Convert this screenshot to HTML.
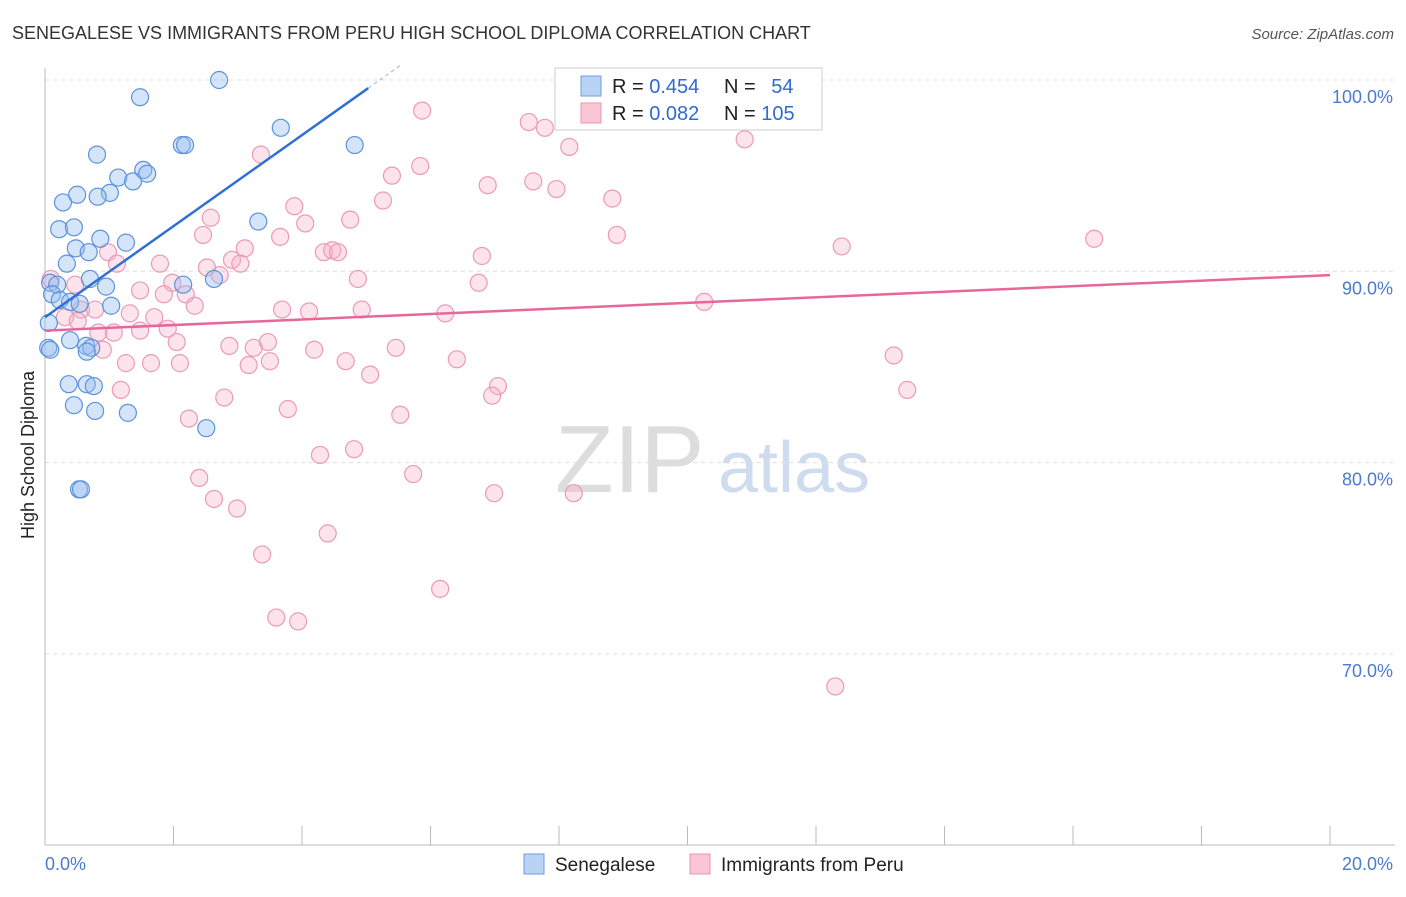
<!DOCTYPE html>
<html><head><meta charset="utf-8"><style>
body{margin:0;background:#fff;font-family:"Liberation Sans",sans-serif}
svg text{font-family:"Liberation Sans",sans-serif}
</style></head><body>
<svg id="chart" width="1406" height="892" xmlns="http://www.w3.org/2000/svg">
<text x="12" y="39" font-size="18" fill="#333">SENEGALESE VS IMMIGRANTS FROM PERU HIGH SCHOOL DIPLOMA CORRELATION CHART</text>
<text x="1394" y="39" font-size="15" fill="#555" text-anchor="end" font-style="italic">Source: ZipAtlas.com</text>
<text x="34" y="455" font-size="18" fill="#222" text-anchor="middle" transform="rotate(-90 34 455)">High School Diploma</text>
<g><text x="555" y="492" font-size="96" fill="#ddd" font-family="Liberation Serif,serif">ZIP</text><text x="718" y="492" font-size="72" fill="#cfdcf0">atlas</text></g>
<g id="grid"></g><g id="axes"></g><g id="pts"></g><g id="lines"></g>
<g>
<rect x="555" y="68" width="267" height="62" fill="#fff" stroke="#ccc"/>
<rect x="581" y="76" width="20" height="20" fill="#b9d3f5" stroke="#6f9de0"/>
<rect x="581" y="103" width="20" height="20" fill="#fac6d6" stroke="#ea93b0"/>
<text x="612" y="93" font-size="20" fill="#222">R = <tspan fill="#2f6bd0">0.454</tspan></text>
<text x="724" y="93" font-size="20" fill="#222">N = <tspan fill="#2f6bd0" dx="10">54</tspan></text>
<text x="612" y="120" font-size="20" fill="#222">R = <tspan fill="#2f6bd0">0.082</tspan></text>
<text x="724" y="120" font-size="20" fill="#222">N = <tspan fill="#2f6bd0">105</tspan></text>
</g>
<g>
<rect x="524" y="854" width="20" height="20" fill="#b9d3f5" stroke="#6f9de0"/>
<text x="555" y="871" font-size="19" fill="#222">Senegalese</text>
<rect x="690" y="854" width="20" height="20" fill="#fac6d6" stroke="#ea93b0"/>
<text x="721" y="871" font-size="19" fill="#222">Immigrants from Peru</text>
</g>
</svg>
<script>
const blueX=[2.71,1.48,2.13,2.18,3.67,4.82,0.81,1.53,1.59,1.14,1.37,1.01,0.50,0.82,0.28,3.32,0.22,0.45,0.86,1.26,0.48,0.68,0.34,2.63,0.70,0.95,2.15,0.08,0.19,0.11,0.23,0.39,0.54,1.03,0.06,0.39,0.64,0.72,0.65,0.05,0.08,0.37,0.65,0.76,0.45,0.78,1.29,2.51,0.53,0.56];
const blueY=[100,99.1,96.6,96.6,97.5,96.6,96.1,95.3,95.1,94.9,94.7,94.1,94.0,93.9,93.6,92.6,92.2,92.3,91.7,91.5,91.2,91.0,90.4,89.6,89.6,89.2,89.3,89.4,89.3,88.8,88.5,88.4,88.3,88.2,87.3,86.4,86.1,86.0,85.8,86.0,85.9,84.1,84.1,84.0,83.0,82.7,82.6,81.8,78.6,78.6];
const pinkX=[5.87,7.53,7.78,9.53,10.89,8.16,3.36,5.84,5.40,6.89,7.60,7.96,8.83,5.26,3.88,2.58,4.75,4.05,2.46,3.66,8.90,16.33,12.40,3.11,0.98,4.34,4.47,4.56,6.80,1.12,1.79,2.91,3.04,2.52,2.72,4.87,1.98,6.75,1.48,0.47,1.85,2.19,0.09,2.33,10.26,3.69,4.11,4.93,6.23,1.32,1.70,0.56,0.78,0.31,0.51,1.48,1.91,1.07,0.83,2.05,2.87,3.25,3.47,4.19,5.46,0.90,3.50,3.17,1.26,1.65,2.10,4.68,6.41,13.21,5.06,7.05,6.96,13.42,1.18,2.79,5.53,3.78,2.24,4.28,4.81,2.40,5.73,2.63,6.99,8.23,2.99,4.40,3.38,6.15,3.60,3.94,12.30];
const pinkY=[98.4,97.8,97.5,98.1,96.9,96.5,96.1,95.5,95.0,94.5,94.7,94.3,93.8,93.7,93.4,92.8,92.7,92.5,91.9,91.8,91.9,91.7,91.3,91.2,91.0,91.0,91.1,91.0,90.8,90.4,90.4,90.6,90.4,90.2,89.8,89.6,89.4,89.4,89.0,89.3,88.8,88.8,89.6,88.2,88.4,88.0,87.9,88.0,87.8,87.8,87.6,88.0,88.0,87.6,87.4,86.9,87.0,86.8,86.8,86.3,86.1,86.0,86.3,85.9,86.0,85.9,85.3,85.1,85.2,85.2,85.2,85.3,85.4,85.6,84.6,84.0,83.5,83.8,83.8,83.4,82.5,82.8,82.3,80.4,80.7,79.2,79.4,78.1,78.4,78.4,77.6,76.3,75.2,73.4,71.9,71.7,68.3];
const yTicks=[100,90,80,70];
const xTickLabels=["0.0%","20.0%"];
const blueTrend=[87.6,2.38]; // intercept, slope
const pinkTrend=[86.9,0.145];
const NS="http://www.w3.org/2000/svg";
const sx=v=>45+v/20*1285, sy=v=>80+(100-v)*19.13;
function mk(t,a,p){const e=document.createElementNS(NS,t);for(const k in a)e.setAttribute(k,a[k]);p.appendChild(e);return e;}
const grid=document.getElementById('grid'),axes=document.getElementById('axes'),pts=document.getElementById('pts'),lines=document.getElementById('lines');
yTicks.forEach(v=>{
 const l=mk('line',{x1:45,x2:1395,y1:sy(v),y2:sy(v),stroke:'#ddd','stroke-dasharray':'4,4'},grid);
 
 
 const t=mk('text',{x:1393,y:sy(v)+23,'font-size':18,fill:'#4a7bd0','text-anchor':'end'},axes);
 t.textContent=v.toFixed(1)+'%';
 
 
});
mk('line',{x1:45,x2:45,y1:68,y2:845,stroke:'#bbb'},axes);
mk('line',{x1:45,x2:1395,y1:845,y2:845,stroke:'#bbb'},axes);
for(let i=0;i<=10;i++){mk('line',{x1:sx(i*2),x2:sx(i*2),y1:826,y2:845,stroke:'#bbb'},axes);}
[[0,45,'start'],[1,1393,'end']].forEach(([i,x,a])=>{
 const t=mk('text',{x:x,y:870,'font-size':18,fill:'#4a7bd0','text-anchor':a},axes);
 t.textContent=xTickLabels[i];
 
 
});
pinkX.forEach((x,i)=>{
 const c=mk('circle',{cx:sx(x),cy:sy(pinkY[i]),r:8.5,fill:'rgba(248,175,200,0.35)',stroke:'#ec9ab5','stroke-width':1.2},pts);
 
 
});
blueX.forEach((x,i)=>{
 const c=mk('circle',{cx:sx(x),cy:sy(blueY[i]),r:8.5,fill:'rgba(150,190,240,0.4)',stroke:'#5e92dc','stroke-width':1.2},pts);
 
 
});
const bl=mk('line',{x1:sx(0),y1:sy(blueTrend[0]),x2:sx(5.03),y2:sy(blueTrend[0]+blueTrend[1]*5.03),stroke:'#2f6fd6','stroke-width':2.5},lines);


const bd=mk('line',{x1:sx(5.03),y1:sy(blueTrend[0]+blueTrend[1]*5.03),x2:sx(5.53),y2:sy(blueTrend[0]+blueTrend[1]*5.53),stroke:'#9bb8e8','stroke-width':1,'stroke-dasharray':'4,3'},lines);


const pl=mk('line',{x1:sx(0),y1:sy(pinkTrend[0]),x2:sx(20),y2:sy(pinkTrend[0]+pinkTrend[1]*20),stroke:'#e8679a','stroke-width':2.5},lines);


</script>
</body></html>
